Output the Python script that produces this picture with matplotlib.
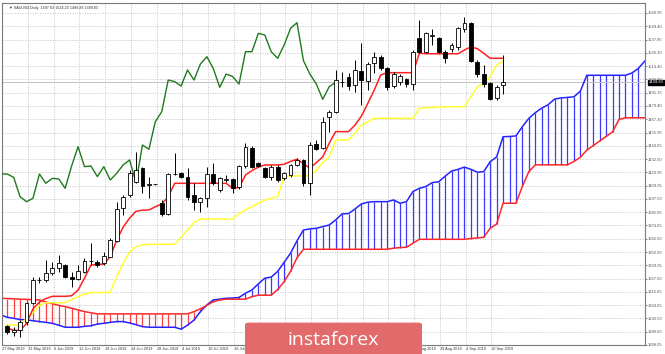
import matplotlib.pyplot as plt
import matplotlib.patches as mpatches
import numpy as np

# daily candles, bar 0 .. 77
opens = [1284.5, 1279.5, 1281.0, 1288.0, 1305.0, 1325.0, 1325.5, 1331.5, 1335.7, 1339.0,
         1328.0, 1326.3, 1332.8, 1342.0, 1341.3, 1340.0, 1346.0, 1360.1, 1388.6, 1400.4,
         1412.2, 1423.9, 1409.5, 1409.8, 1393.1, 1383.6, 1418.5, 1419.5, 1416.6, 1400.4,
         1394.5, 1397.5, 1418.9, 1405.0, 1414.0, 1414.2, 1407.7, 1426.0, 1442.0, 1428.3,
         1424.0, 1416.6, 1425.4, 1415.0, 1418.0, 1427.0, 1431.3, 1411.3, 1445.4, 1441.6,
         1468.9, 1473.9, 1500.0, 1504.2, 1497.4, 1510.1, 1501.2, 1516.5, 1522.4, 1512.1,
         1496.5, 1500.0, 1502.7, 1498.3, 1538.6, 1526.8, 1541.0, 1538.6, 1526.8, 1528.9,
         1531.3, 1546.5, 1552.4, 1518.0, 1507.1, 1498.9, 1485.7, 1497.63]
highs = [1286.0, 1284.0, 1290.0, 1306.0, 1328.0, 1328.0, 1343.0, 1341.6, 1347.5, 1339.5,
         1332.8, 1338.6, 1344.5, 1357.8, 1343.1, 1350.4, 1362.2, 1394.5, 1400.4, 1422.5,
         1438.6, 1425.4, 1416.6, 1410.5, 1396.0, 1419.5, 1437.0, 1421.0, 1424.0, 1410.7,
         1399.0, 1425.4, 1428.3, 1416.6, 1418.0, 1415.0, 1427.0, 1446.0, 1444.0, 1429.5,
         1425.0, 1427.0, 1427.0, 1421.0, 1428.0, 1433.0, 1432.0, 1447.4, 1449.0, 1469.5,
         1475.4, 1510.5, 1509.2, 1507.7, 1519.5, 1534.2, 1518.0, 1526.8, 1523.8, 1513.6,
         1509.2, 1507.0, 1504.0, 1528.3, 1554.8, 1544.5, 1546.5, 1540.0, 1528.3, 1534.2,
         1548.9, 1557.1, 1553.3, 1519.5, 1515.0, 1500.4, 1497.4, 1524.20]
lows = [1277.5, 1276.0, 1275.5, 1286.0, 1304.0, 1323.0, 1324.0, 1330.0, 1332.8, 1327.0,
        1319.6, 1325.4, 1331.4, 1338.7, 1337.2, 1338.7, 1345.4, 1359.2, 1382.8, 1398.9,
        1410.7, 1401.9, 1397.5, 1409.2, 1382.0, 1382.8, 1418.0, 1415.0, 1396.0, 1387.0,
        1385.7, 1390.1, 1409.2, 1403.3, 1412.2, 1401.9, 1406.0, 1424.5, 1424.0, 1425.0,
        1415.5, 1414.0, 1412.0, 1413.5, 1416.5, 1426.0, 1408.0, 1400.4, 1440.0, 1440.7,
        1456.3, 1472.4, 1496.0, 1493.0, 1491.6, 1479.8, 1493.0, 1507.7, 1510.7, 1493.0,
        1494.5, 1497.0, 1496.0, 1493.0, 1525.4, 1525.4, 1532.7, 1525.4, 1516.5, 1526.8,
        1528.3, 1544.5, 1518.0, 1504.8, 1496.0, 1484.2, 1484.2, 1489.28]
closes = [1279.5, 1281.5, 1288.0, 1305.0, 1325.5, 1325.8, 1331.3, 1335.7, 1340.1, 1328.0,
          1326.5, 1333.6, 1342.2, 1342.5, 1338.9, 1346.6, 1360.7, 1387.8, 1398.3, 1419.5,
          1422.5, 1408.3, 1410.5, 1409.8, 1383.6, 1418.9, 1418.9, 1416.0, 1398.9, 1394.5,
          1397.5, 1418.9, 1410.7, 1415.1, 1414.5, 1406.3, 1426.0, 1443.0, 1425.4, 1426.0,
          1416.6, 1425.4, 1413.6, 1419.5, 1426.9, 1431.3, 1411.3, 1444.5, 1440.7, 1465.1,
          1473.9, 1501.8, 1500.4, 1496.5, 1510.7, 1501.8, 1516.0, 1522.4, 1512.1, 1495.4,
          1507.1, 1505.0, 1498.3, 1526.8, 1526.8, 1543.0, 1541.5, 1526.8, 1521.0, 1532.7,
          1547.4, 1552.4, 1518.9, 1507.1, 1498.3, 1484.8, 1495.9, 1499.83]

# tenkan-sen (red) and kijun-sen (yellow), bar 0 .. 77
tenkan = [1283.0, 1281.0, 1281.0, 1287.0, 1300.0, 1306.0, 1309.0, 1311.0, 1311.0, 1311.0,
          1311.5, 1316.5, 1327.0, 1338.5, 1339.3, 1339.3, 1346.0, 1360.5, 1372.0, 1380.0,
          1386.0, 1387.0, 1387.2, 1390.0, 1392.5, 1398.9, 1410.7, 1410.7, 1410.7, 1410.7,
          1410.7, 1410.7, 1410.7, 1410.7, 1410.7, 1406.3, 1407.0, 1418.0, 1421.9, 1425.0,
          1426.9, 1426.9, 1426.9, 1427.5, 1430.0, 1431.9, 1428.0, 1424.0, 1429.0, 1434.0,
          1446.0, 1456.3, 1456.3, 1456.3, 1462.0, 1470.0, 1481.3, 1493.0, 1506.3, 1508.3,
          1508.3, 1508.3, 1508.3, 1508.3, 1525.4, 1525.0, 1525.0, 1525.0, 1525.0, 1525.0,
          1525.0, 1528.3, 1531.0, 1529.5, 1525.4, 1521.0, 1521.0, 1521.0]
kijun = [1285.7, 1285.7, 1285.7, 1291.6, 1296.6, 1303.0, 1305.4, 1305.4, 1305.4, 1305.4,
         1308.0, 1310.7, 1313.0, 1314.3, 1314.3, 1314.3, 1314.3, 1328.4, 1340.0, 1350.0,
         1354.8, 1356.3, 1356.9, 1356.9, 1356.9, 1356.9, 1356.9, 1363.0, 1369.5, 1376.0,
         1379.2, 1379.2, 1379.2, 1379.2, 1379.2, 1379.2, 1384.0, 1387.2, 1390.0, 1393.1,
         1396.0, 1397.5, 1398.9, 1416.6, 1417.2, 1417.2, 1417.2, 1417.2, 1422.0, 1429.0,
         1434.0, 1448.9, 1448.9, 1448.9, 1454.8, 1462.0, 1465.1, 1468.0, 1468.0, 1468.0,
         1468.0, 1468.0, 1468.0, 1468.0, 1476.8, 1477.5, 1477.5, 1478.0, 1478.0, 1478.3,
         1478.3, 1478.3, 1487.1, 1495.9, 1498.9, 1504.8, 1515.1, 1518.6]

# senkou span A (blue) and B (red), bar -1 .. 99
span_a = [1294.6, 1292.5, 1291.6, 1290.5, 1290.2, 1289.5, 1288.7, 1288.0, 1287.2, 1285.5,
          1283.7, 1283.7, 1283.7, 1284.5, 1285.0, 1286.5, 1287.2, 1288.0, 1288.7, 1288.7,
          1287.5, 1286.0, 1284.3, 1283.7, 1283.7, 1283.7, 1283.7, 1283.7, 1282.0, 1285.5,
          1290.0, 1297.5, 1303.4, 1307.8, 1308.5, 1309.3, 1309.5, 1310.0, 1313.7, 1316.6,
          1322.0, 1327.0, 1328.0, 1333.0, 1341.0, 1349.0, 1360.0, 1369.5, 1370.5, 1371.0,
          1372.5, 1373.9, 1378.4, 1383.7, 1384.0, 1388.0, 1392.5, 1394.0, 1394.5, 1394.5,
          1394.5, 1396.0, 1393.1, 1394.5, 1403.4, 1406.3, 1407.8, 1411.3, 1412.0, 1417.0,
          1421.5, 1423.0, 1425.0, 1423.0, 1420.5, 1421.0, 1429.8, 1434.0, 1451.8, 1452.0,
          1452.5, 1460.7, 1468.0, 1473.0, 1477.0, 1480.0, 1485.0, 1486.0, 1486.5, 1487.0,
          1492.0, 1506.0, 1506.0, 1506.0, 1506.0, 1506.0, 1506.0, 1506.0, 1508.0, 1512.0,
          1518.5]
span_b = [1309.3, 1309.0, 1308.8, 1308.5, 1308.3, 1308.0, 1307.8, 1306.0, 1304.5, 1303.0,
          1301.9, 1300.5, 1299.0, 1297.5, 1296.5, 1295.5, 1295.5, 1295.5, 1295.5, 1295.5,
          1295.5, 1295.5, 1295.5, 1295.5, 1295.5, 1295.5, 1295.5, 1295.5, 1295.5, 1295.5,
          1297.5, 1300.0, 1303.0, 1306.3, 1307.8, 1308.5, 1308.5, 1308.5, 1308.5, 1310.7,
          1312.0, 1312.0, 1312.0, 1317.0, 1323.9, 1333.0, 1345.0, 1352.5, 1352.5, 1352.5,
          1352.5, 1352.5, 1352.5, 1352.5, 1352.5, 1352.5, 1352.5, 1352.5, 1352.5, 1352.5,
          1352.5, 1353.5, 1354.0, 1354.3, 1357.8, 1361.3, 1361.3, 1361.3, 1361.3, 1361.3,
          1361.3, 1361.3, 1361.3, 1362.0, 1362.5, 1363.1, 1371.0, 1374.8, 1393.1, 1393.1,
          1393.1, 1408.0, 1421.0, 1427.0, 1427.0, 1427.0, 1427.0, 1427.0, 1427.0, 1430.0,
          1433.6, 1440.0, 1444.0, 1448.0, 1452.0, 1456.0, 1467.0, 1468.5, 1468.5, 1468.5,
          1468.5]

price_labels = ["1268.05", "1280.60", "1292.50", "1304.05", "1315.65", "1327.50", "1339.05",
                "1350.60", "1362.50", "1374.05", "1385.65", "1397.50", "1409.05", "1420.95",
                "1432.50", "1444.05", "1455.95", "1467.30", "1479.40", "1491.15", "1502.90",
                "1514.40", "1526.30", "1537.85", "1549.40", "1560.95"]
date_bars = [0, 4, 8, 12, 16, 20, 24, 28, 32, 36, 40, 44, 48, 52, 56, 60, 64, 68, 72, 76]
date_labels = ["27 May 2019", "31 May 2019", "6 Jun 2019", "12 Jun 2019", "18 Jun 2019",
               "24 Jun 2019", "28 Jun 2019", "4 Jul 2019", "10 Jul 2019", "16 Jul 2019",
               "22 Jul 2019", "26 Jul 2019", "1 Aug 2019", "7 Aug 2019", "13 Aug 2019",
               "19 Aug 2019", "23 Aug 2019", "29 Aug 2019", "4 Sep 2019", "10 Sep 2019"]
title = "XAUUSD,Daily  1497.63 1524.20 1489.28 1499.83"

small_font = ["Liberation Sans", "DejaVu Sans"]

fig = plt.figure(figsize=(6.65, 3.54), dpi=100)
ax = fig.add_axes([2 / 665, 9 / 354, 643 / 665, 342 / 354])

bars = np.arange(len(closes))
cloud_x = np.arange(-1, len(span_a) - 1)
a = np.array(span_a)
b = np.array(span_b)

y_lo, y_hi = 1268.05, 1569.77
ax.set_xlim(-0.81, 99.04)
ax.set_ylim(y_lo, y_hi)

# grid
tick_vals = np.linspace(1268.05, 1560.95, len(price_labels))
for v in tick_vals:
    ax.axhline(v, color="#c8c8c8", lw=0.6, ls=(0, (1.5, 1.5)), zorder=0)
for d in date_bars:
    ax.axvline(d - 0.8, color="#c8c8c8", lw=0.6, ls=(0, (1.5, 1.5)), zorder=0)

# kumo hatching
hatch_colors = np.where(a >= b, "#3a3aff", "#ff4040")
ax.vlines(cloud_x, a, b, colors=hatch_colors, lw=0.9, zorder=1)
ax.plot(cloud_x, a, color="#2323ff", lw=1.1, zorder=2)
ax.plot(cloud_x, b, color="#ff2626", lw=1.1, zorder=2)

# bid line
ax.axhline(closes[-1], color="#c0c0c0", lw=0.7, zorder=1)

# lines
ax.plot(bars, kijun, color="#ffff30", lw=1.1, zorder=3)
ax.plot(bars, tenkan, color="#ff2020", lw=1.1, zorder=3)
ax.plot(bars[25:] - 26, closes[25:], color="#1f7a1f", lw=1.0, zorder=3)

# candles
o = np.array(opens)
c = np.array(closes)
ax.vlines(bars, lows, highs, color="black", lw=0.7, zorder=4)
body_lo = np.minimum(o, c)
body_h = np.maximum(np.abs(c - o), 0.35)
fill = np.where(c >= o, "white", "black")
ax.bar(bars, body_h, bottom=body_lo, width=0.6, color=fill, edgecolor="black",
       linewidth=0.6, zorder=5)

# axes look
for side in ["top", "bottom", "left", "right"]:
    ax.spines[side].set_color("#7a7a7a")
    ax.spines[side].set_linewidth(0.8)
ax.set_xticks([])
ax.yaxis.tick_right()
ax.set_yticks(tick_vals)
ax.set_yticklabels(price_labels, fontsize=3.0, color="#333333", family=small_font)
ax.tick_params(axis="y", length=1.2, width=0.5, pad=1.0, colors="#555555")

for d, lab in zip(date_bars, date_labels):
    ax.text(d - 0.8, y_lo - 2.0, lab, fontsize=2.8, color="#333333", family=small_font,
            ha="left", va="top", clip_on=False)

ax.text(0.3, 1565.5, "\u25bc " + title, fontsize=2.7, color="#333333",
        family=small_font, ha="left", va="center")

# last price box
ax.text(99.55, closes[-1], "%.2f" % closes[-1], fontsize=3.0, color="white",
        family=small_font, ha="left", va="center", clip_on=False, zorder=6,
        bbox=dict(boxstyle="square,pad=0.15", fc="black", ec="black"))

# logo
logo = mpatches.FancyBboxPatch((245 / 665, -0.03), 177 / 665, 42 / 354,
                               boxstyle="round,pad=0,rounding_size=0.006",
                               transform=fig.transFigure, fc="#e36a6a", ec="none",
                               zorder=10)
fig.patches.append(logo)
fig.text(333.5 / 665, 9 / 354, "instaforex", fontsize=14, color="white",
         family="Open Sans", ha="center", va="baseline", zorder=11)

fig.savefig("out.png", dpi=100)
